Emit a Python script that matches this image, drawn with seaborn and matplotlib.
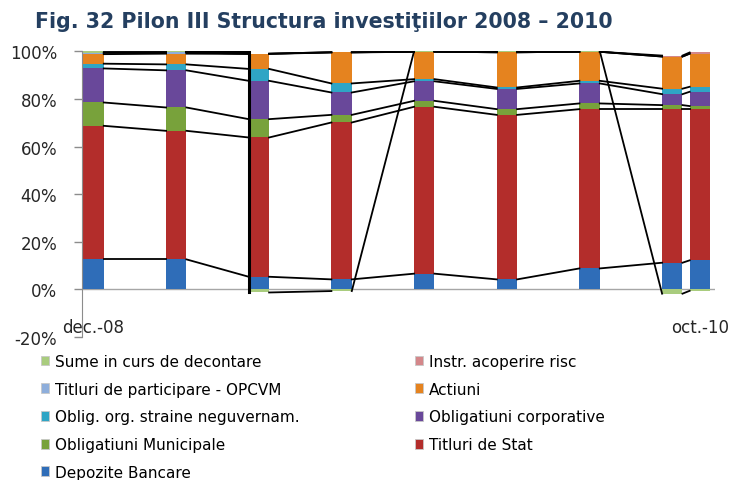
import numpy as np
import pandas as pd
import matplotlib
matplotlib.use('Agg')
import matplotlib.pyplot as plt
import seaborn as sns
from matplotlib.patches import Patch

# luni raportate (date trimestriale + oct. 2010)
luni = ['2008-12', '2009-03', '2009-06', '2009-09', '2009-12',
        '2010-03', '2010-06', '2010-09', '2010-10']
etichete_x = ['dec.-08', 'oct.-10']

# structura investitiilor, % din total
depozite = [12.6, 12.6, 5.3, 4.2, 6.6, 4.2, 8.8, 11.2, 12.2]
titluri_stat = [56.1, 54.0, 58.5, 65.9, 70.1, 69.1, 66.9, 64.5, 63.5]
oblig_municipale = [9.8, 9.8, 7.7, 3.2, 2.5, 2.4, 2.4, 1.7, 1.3]
oblig_corporative = [14.3, 15.6, 16.1, 9.4, 8.2, 8.5, 8.4, 4.6, 6.0]
oblig_straine = [2.0, 2.5, 5.0, 3.8, 0.9, 0.6, 1.1, 2.3, 2.1]
actiuni = [4.0, 4.5, 6.3, 13.0, 11.5, 14.8, 12.2, 13.5, 13.9]
titluri_part = [0.6, 0.5, 0.1, 0.1, 0.0, 0.0, 0.0, 0.0, 0.0]
instr_risc = [0.0, 0.0, 0.0, 0.0, 0.0, 0.0, 0.0, 0.4, 0.5]
sume_decontare = [0.6, 0.5, -1.3, -0.7, 0.2, 0.4, 0.2, -1.8, -0.6]

serii = ['Depozite Bancare', 'Titluri de Stat', 'Obligatiuni Municipale',
         'Obligatiuni corporative', 'Oblig. org. straine neguvernam.',
         'Actiuni', 'Titluri de participare - OPCVM', 'Instr. acoperire risc',
         'Sume in curs de decontare']
culori = ['#2F6DB8', '#B32D2B', '#78A23B', '#69489A', '#2FA5C5',
          '#E5831F', '#8EAEDB', '#D4878A', '#A9CC7E']

valori = np.array([depozite, titluri_stat, oblig_municipale, oblig_corporative,
                   oblig_straine, actiuni, titluri_part, instr_risc, sume_decontare])

per = pd.PeriodIndex(luni, freq='M')
x = np.array([(p.year - per[0].year) * 12 + p.month - per[0].month for p in per])

poz = np.clip(valori, 0, None)
cum = poz.cumsum(axis=0)
neg = np.clip(valori[-1], None, 0)

# capatul fiecarui segment (pt liniile de legatura)
capete = cum.copy()
capete[-1] = np.where(valori[-1] < 0, valori[-1], cum[-1])

fig = plt.figure(figsize=(7.33, 4.81), dpi=100)
ax = fig.add_axes([82 / 733, 1 - 338 / 481, (715 - 82) / 733, (338 - 52.3) / 481])

latime = 0.74
for k in reversed(range(len(serii))):
    sns.barplot(x=x, y=cum[k], native_scale=True, color=culori[k], saturation=1,
                width=latime, errorbar=None, linewidth=0, ax=ax, zorder=2)
sns.barplot(x=x, y=neg, native_scale=True, color=culori[-1], saturation=1,
            width=latime, errorbar=None, linewidth=0, ax=ax, zorder=2)

# linii de serie (stil Excel)
cot_sume = [1]
for k in range(len(serii)):
    for i in range(len(x) - 1):
        x0, x1 = x[i] + latime / 2, x[i + 1] - latime / 2
        y0, y1 = capete[k, i], capete[k, i + 1]
        if k == len(serii) - 1 and i in cot_sume:
            ax.plot([x0, x1, x1], [y0, y0, y1], color='black', lw=2.2, zorder=3)
        else:
            ax.plot([x0, x1], [y0, y1], color='black', lw=1.3, zorder=3)

ax.axhline(0, color='#a6a6a6', lw=1, zorder=1)
ax.set_ylim(-20, 100)
ax.set_xlim(x[0] - 0.42, x[-1] + 0.55)

ax.set_yticks(range(-20, 101, 20))
ax.set_yticklabels([f'{v}%' for v in range(-20, 101, 20)])
ax.set_xticks([x[0], x[-1]])
ax.set_xticklabels(etichete_x)
ax.set_xlabel('')
ax.set_ylabel('')

for s in ['top', 'right', 'bottom']:
    ax.spines[s].set_visible(False)
ax.spines['left'].set_color('#8c8c8c')
ax.tick_params(axis='y', direction='out', length=5.8, width=1, color='#8c8c8c',
               pad=12, labelsize=12, labelcolor='#262626')
ax.tick_params(axis='x', length=0, pad=-14, labelsize=12, labelcolor='#262626')

fig.text(35 / 733, 1 - 22 / 481, 'Fig. 32 Pilon III Structura investiţiilor 2008 – 2010',
         fontsize=14.8, fontweight='bold', color='#243F60', va='center', ha='left')

# legenda pe doua coloane
col1 = [8, 6, 4, 2, 0]
col2 = [7, 5, 3, 1]
for col, xpos in [(col1, 41), (col2, 415)]:
    h = [Patch(facecolor=culori[k], edgecolor='#c8c8c8', linewidth=0.6) for k in col]
    fig.legend(h, [serii[k] for k in col], loc='upper left',
               bbox_to_anchor=(xpos / 733, 1 - 355 / 481), frameon=False,
               fontsize=11, labelspacing=0.83, handlelength=0.5, handleheight=0.6,
               handletextpad=0.42, borderpad=0, borderaxespad=0)

fig.savefig('out.png', dpi=100)
